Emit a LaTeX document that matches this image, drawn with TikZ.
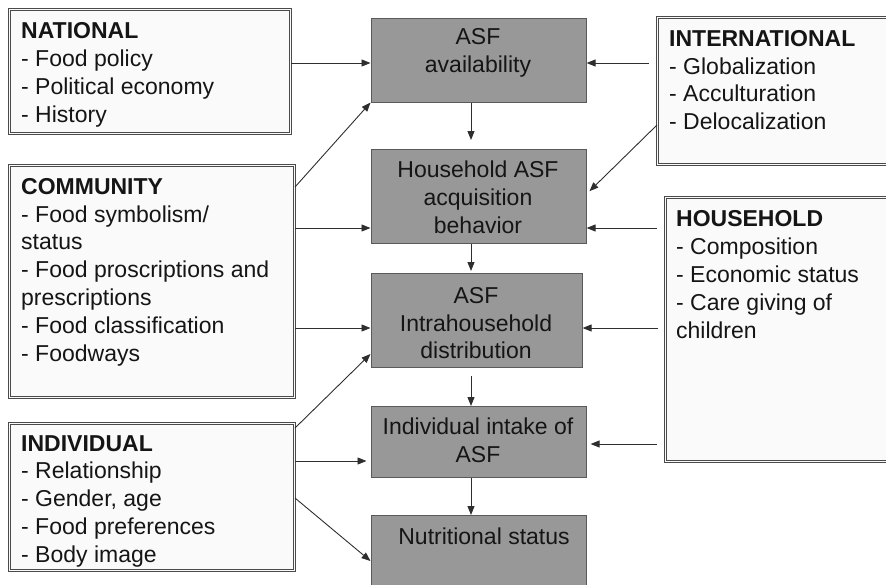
\documentclass[tikz,border=0pt]{standalone}
\usepackage{fontspec}
\setmainfont{Liberation Sans}
\usetikzlibrary{arrows.meta}
\definecolor{stagefill}{HTML}{989898}
\definecolor{stageline}{HTML}{5A5A5A}
\definecolor{factorline}{HTML}{4A4A4A}
\definecolor{factorfill}{HTML}{FAFAFA}
\definecolor{linkgray}{HTML}{2E2E2E}
\definecolor{inktext}{HTML}{151515}

\begin{document}
\begin{tikzpicture}[x=1pt,y=-1pt,
  stage/.style={draw=stageline,fill=stagefill,line width=1.1pt,inner sep=0pt,anchor=north west},
  factor/.style={draw=factorline,double=factorfill,double distance=1.5pt,line width=1pt,fill=factorfill,inner sep=0pt,anchor=north west},
  txt/.style={inner sep=0pt,text=inktext,font=\fontsize{23}{27.8}\selectfont},
  link/.style={draw=linkgray,line width=0.9pt,-{Triangle[length=9pt,width=7pt]}}]
  \useasboundingbox (0,0) rectangle (886,584);

  % Pathway in the middle
  \node[stage,minimum width=215pt,minimum height=84pt] (avail) at (370.5,17.5) {};
  \node[stage,minimum width=215pt,minimum height=94pt] (acquire) at (370.5,149) {};
  \node[stage,minimum width=211pt,minimum height=94pt] (intra) at (370.5,273) {};
  \node[stage,minimum width=215pt,minimum height=71pt] (intake) at (370.5,406) {};
  \node[stage,minimum width=215pt,minimum height=90pt] (nutrition) at (370.5,515) {};

  \node[txt,anchor=north,align=center] (availtext) at (478,28.3) {ASF\\availability};
  \node[txt,anchor=north,align=center] (acquiretext) at (478,160.7) {Household ASF\\acquisition\\behavior};
  \node[txt,anchor=north,align=center] (intratext) at (476,287) {ASF\\Intrahousehold\\distribution};
  \node[txt,anchor=north,align=center] (intaketext) at (478,418) {Individual intake of\\ASF};
  \node[txt,anchor=north,align=center] (nutritiontext) at (484,528) {Nutritional status};

  % Levels on the left
  \node[factor,minimum width=281pt,minimum height=124pt] (national) at (9,9) {};
  \node[factor,minimum width=285pt,minimum height=232pt] (community) at (9,165) {};
  \node[factor,minimum width=285pt,minimum height=147pt] (individual) at (9,423) {};

  \node[txt,anchor=north west,align=left] (nationaltext) at (21,22.5)
    {\textbf{NATIONAL}\\- Food policy\\- Political economy\\- History};
  \node[txt,anchor=north west,align=left] (communitytext) at (21,178)
    {\textbf{COMMUNITY}\\- Food symbolism/\\status\\- Food proscriptions and\\prescriptions\\- Food classification\\- Foodways};
  \node[txt,anchor=north west,align=left] (individualtext) at (21,435)
    {\textbf{INDIVIDUAL}\\- Relationship\\- Gender, age\\- Food preferences\\- Body image};

  % Levels on the right
  \node[factor,minimum width=240pt,minimum height=147pt] (international) at (657,17) {};
  \node[factor,minimum width=240pt,minimum height=264pt] (household) at (665,197) {};

  \node[txt,anchor=north west,align=left] (internationaltext) at (669,30)
    {\textbf{INTERNATIONAL}\\- Globalization\\- Acculturation\\- Delocalization};
  \node[txt,anchor=north west,align=left] (householdtext) at (676,210.7)
    {\textbf{HOUSEHOLD}\\- Composition\\- Economic status\\- Care giving of\\children};

  % Influences
  \draw[link] (national.east |- 0,63) -- (avail.west |- 0,63);
  \draw[link,shorten <=8pt] (international.west |- 0,63) -- (avail.east |- 0,63);
  \draw[link] (community.east |- 0,187) -- (avail.south west);
  \draw[link,shorten >=4pt] (international.west |- 0,125) -- (acquire.east |- 0,194);
  \draw[link] (community.east |- 0,228) -- (acquire.west |- 0,228);
  \draw[link,shorten <=8pt] (household.west |- 0,228) -- (acquire.east |- 0,228);
  \draw[link] (community.east |- 0,328) -- (intra.west |- 0,328);
  \draw[link,shorten <=7pt] (household.west |- 0,328) -- (intra.east |- 0,328);
  \draw[link] (individual.east |- 0,428) -- (intra.west |- 0,354);
  \draw[link,shorten >=4pt] (individual.east |- 0,461) -- (intake.west |- 0,461);
  \draw[link,shorten <=8pt,shorten >=4pt] (household.west |- 0,444) -- (intake.east |- 0,444);
  \draw[link] (individual.east |- 0,498) -- (nutrition.west |- 0,561);

  % Steps down the pathway
  \draw[link,shorten >=9pt] (avail.south -| 471,0) -- (acquire.north -| 471,0);
  \draw[link,shorten >=2pt] (acquire.south -| 471,0) -- (intra.north -| 471,0);
  \draw[link,shorten <=8pt] (intra.south -| 471,0) -- (intake.north -| 471,0);
  \draw[link] (intake.south -| 471,0) -- (nutrition.north -| 471,0);
\end{tikzpicture}
\end{document}
